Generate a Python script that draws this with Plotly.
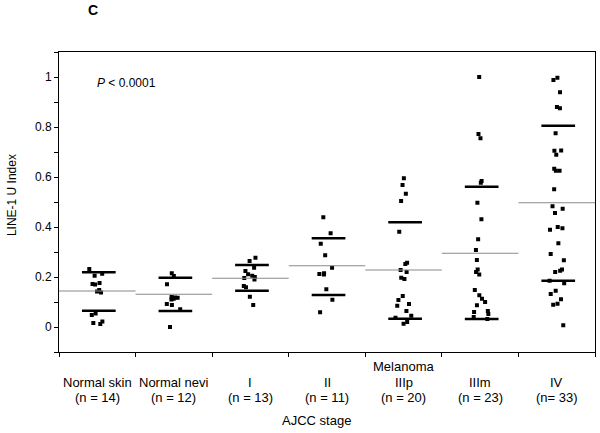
import plotly.graph_objects as go

group_names = ["Normal skin", "Normal nevi", "I", "II", "IIIp", "IIIm", "IV"]
n_labels = ["(n = 14)", "(n = 12)", "(n = 13)", "(n = 11)", "(n = 20)", "(n = 23)", "(n= 33)"]

normal_skin = [0.232, 0.213, 0.205, 0.172, 0.170, 0.176, 0.148, 0.142, 0.138,
               0.054, 0.048, 0.022, 0.016, 0.012]
normal_nevi = [0.215, 0.204, 0.171, 0.120, 0.118, 0.117, 0.113, 0.110, 0.092,
               0.088, 0.071, 0.000]
stage_I = [0.277, 0.264, 0.237, 0.224, 0.211, 0.205, 0.200, 0.196, 0.190,
           0.164, 0.159, 0.121, 0.088]
stage_II = [0.439, 0.375, 0.333, 0.287, 0.237, 0.215, 0.212, 0.210, 0.151,
            0.109, 0.059]
stage_IIIp = [0.595, 0.568, 0.533, 0.504, 0.381, 0.257, 0.252, 0.228, 0.220,
              0.197, 0.192, 0.124, 0.108, 0.092, 0.085, 0.064, 0.045, 0.037,
              0.020, 0.013]
stage_IIIm = [1.000, 0.772, 0.755, 0.584, 0.577, 0.497, 0.431, 0.351, 0.308,
              0.268, 0.230, 0.220, 0.210, 0.148, 0.127, 0.113, 0.100, 0.087,
              0.064, 0.060, 0.052, 0.040, 0.032]
stage_IV = [0.997, 0.988, 0.939, 0.880, 0.875, 0.775, 0.706, 0.705, 0.689,
            0.633, 0.625, 0.625, 0.551, 0.483, 0.473, 0.456, 0.400, 0.395,
            0.389, 0.335, 0.292, 0.267, 0.230, 0.225, 0.220, 0.185, 0.175,
            0.145, 0.132, 0.111, 0.093, 0.089, 0.007]

groups = [normal_skin, normal_nevi, stage_I, stage_II, stage_IIIp, stage_IIIm, stage_IV]

medians = [0.144, 0.131, 0.195, 0.245, 0.228, 0.295, 0.497]
q1 = [0.065, 0.064, 0.145, 0.128, 0.033, 0.032, 0.185]
q3 = [0.219, 0.197, 0.248, 0.355, 0.419, 0.561, 0.805]

ytick_vals = [0, 0.2, 0.4, 0.6, 0.8, 1.0]
ytick_text = ["0", "0.2", "0.4", "0.6", "0.8", "1"]

xs, ys = [], []
for cat, vals in zip(group_names, groups):
    xs += [cat] * len(vals)
    ys += vals

FONT = "Liberation Sans, Arial, sans-serif"

fig = go.Figure()
fig.add_trace(go.Box(
    x=xs, y=ys, boxpoints="all", jitter=0.45, pointpos=0,
    fillcolor="rgba(0,0,0,0)", line=dict(width=0, color="rgba(0,0,0,0)"),
    marker=dict(symbol="square", size=4, color="black"),
    showlegend=False, hoverinfo="y",
))

shapes = []
for i, (m, a, b) in enumerate(zip(medians, q1, q3)):
    shapes.append(dict(type="line", xref="x", yref="y", x0=i - 0.5, x1=i + 0.5,
                       y0=m, y1=m, line=dict(color="#8a8a8a", width=1.2)))
    for v in (a, b):
        shapes.append(dict(type="line", xref="x", yref="y", x0=i - 0.2, x1=i + 0.24,
                           y0=v, y1=v, line=dict(color="black", width=2.5)))

annotations = [
    dict(text="<b>C</b>", xref="paper", yref="paper", x=0.063, y=1.14,
         xanchor="center", yanchor="middle", showarrow=False, font=dict(size=14, family=FONT)),
    dict(text="<i>P</i> < 0.0001", xref="paper", yref="paper", x=0.067, y=0.897,
         xanchor="left", yanchor="middle", showarrow=False, font=dict(size=12, family=FONT)),
    dict(text="Melanoma", xref="x", yref="paper", x=4, y=-0.047,
         xanchor="center", yanchor="middle", showarrow=False, font=dict(size=13, family=FONT)),
    dict(text="AJCC stage", xref="paper", yref="paper", x=0.481, y=-0.227,
         xanchor="center", yanchor="middle", showarrow=False, font=dict(size=13, family=FONT)),
    dict(text="LINE-1 U Index", xref="paper", yref="paper", x=-0.0877, y=0.523,
         xanchor="center", yanchor="middle", textangle=-90, showarrow=False,
         font=dict(size=12, family=FONT)),
]
for i, (name, nl) in enumerate(zip(group_names, n_labels)):
    annotations.append(dict(text=name, xref="x", yref="paper", x=i, y=-0.103,
                            xanchor="center", yanchor="middle", showarrow=False,
                            font=dict(size=13, family=FONT)))
    annotations.append(dict(text=nl, xref="x", yref="paper", x=i, y=-0.153,
                            xanchor="center", yanchor="middle", showarrow=False,
                            font=dict(size=13, family=FONT)))

fig.update_layout(
    width=600, height=433,
    margin=dict(l=59, r=5, t=52, b=81, autoexpand=False),
    paper_bgcolor="white", plot_bgcolor="white",
    font=dict(family=FONT, size=13, color="black"),
    shapes=shapes,
    showlegend=False,
    annotations=annotations,
)

fig.update_xaxes(
    type="category", categoryorder="array", categoryarray=group_names,
    range=[-0.5, 6.5], tickson="boundaries", ticks="outside", ticklen=4,
    tickcolor="black", showline=True, linecolor="black", linewidth=1, mirror=True,
    showgrid=False, zeroline=False, showticklabels=False, automargin=False,
)
fig.update_yaxes(
    range=[-0.1, 1.1], tickvals=ytick_vals, ticktext=ytick_text,
    ticks="outside", ticklen=4, tickcolor="black",
    minor=dict(dtick=0.1, tick0=0, ticks="outside", ticklen=4, tickcolor="black", showgrid=False),
    showline=True, linecolor="black", linewidth=1, mirror=True, automargin=False,
    showgrid=False, zeroline=False, tickfont=dict(size=12, family=FONT),
)

fig.write_html("out.html", config={"displayModeBar": False},
               post_script="document.body.style.margin='0';")
